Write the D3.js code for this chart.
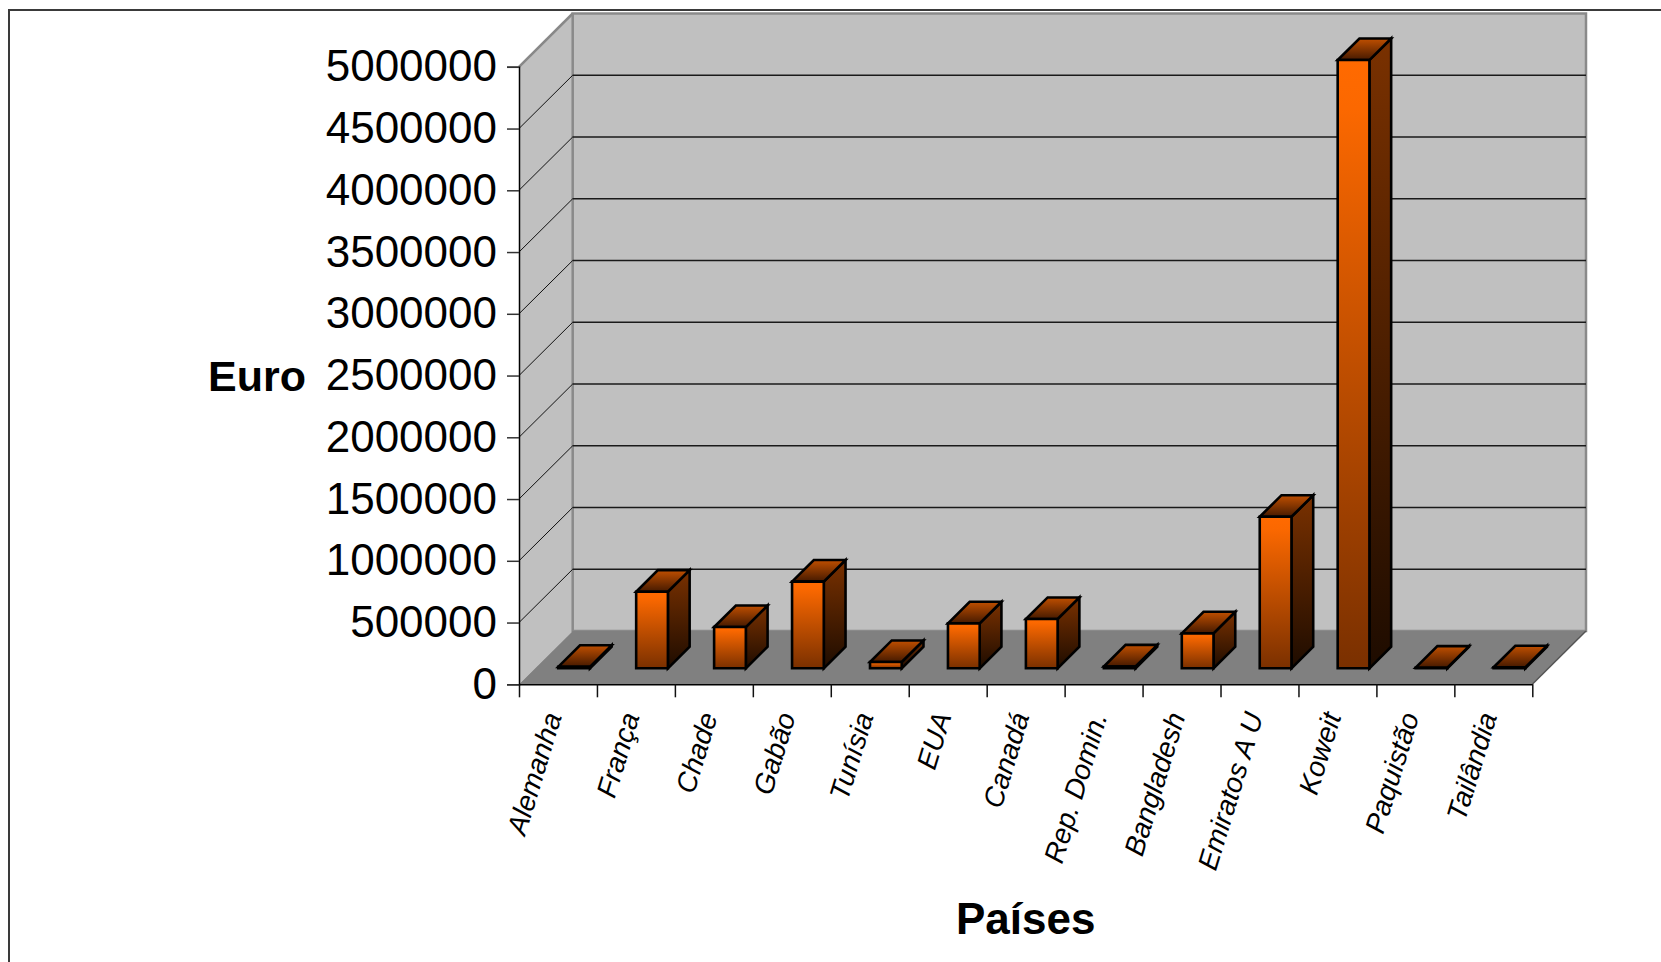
<!DOCTYPE html>
<html>
<head>
<meta charset="utf-8">
<title>Euro por país</title>
<script src="https://cdn.jsdelivr.net/npm/d3@7/dist/d3.min.js"></script>
<style>
  html, body { margin: 0; padding: 0; background: #ffffff; }
  svg { display: block; }
  text { font-family: "Liberation Sans", Arial, Helvetica, sans-serif; }
</style>
</head>
<body>
<svg id="chart" width="1661" height="962"></svg>
<script>
// Countries and their amounts (Euro)
const categories = ["Alemanha", "França", "Chade", "Gabão", "Tunísia", "EUA", "Canadá",
                    "Rep. Domin.", "Bangladesh", "Emiratos A U", "Koweit", "Paquistão", "Tailândia"];
const values = [12000, 620000, 334000, 702000, 51000, 364000, 399000,
                15000, 283000, 1227000, 4925000, 5000, 8000];
const yTicks = [0, 500000, 1000000, 1500000, 2000000, 2500000, 3000000,
                3500000, 4000000, 4500000, 5000000];
const yTitle = "Euro";
const xTitle = "Países";

const svg = d3.select("#chart");

// Front plane of the 3D box
const plotL = 519, plotR = 1532.3, plotB = 684.3, plotT = 66.8;
// Depth offset of the back wall
const DX = 53.7, DY = -53.3;
// Bars occupy this slice of the depth
const Z0 = 0.3, Z1 = 0.705;

const x = d3.scaleBand().domain(categories).range([plotL, plotR]).paddingInner(0).paddingOuter(0);
const y = d3.scaleLinear().domain([0, 5000000]).range([plotB, plotT]);
const xIdx = d3.scaleLinear().domain([0, categories.length]).range([plotL, plotR]);

const proj = (px, py, z) => [px + z * DX, py + z * DY];
const pts = arr => arr.map(p => p.join(",")).join(" ");

// Gradients
const defs = svg.append("defs");
function vGrad(id, stops) {
  const g = defs.append("linearGradient").attr("id", id)
    .attr("x1", 0).attr("y1", 0).attr("x2", 0).attr("y2", 1);
  stops.forEach(([o, c]) => g.append("stop").attr("offset", o).attr("stop-color", c));
}
vGrad("gFront", [[0, "#ff6a00"], [0.08, "#fb6800"], [1, "#7a3000"]]);
vGrad("gSide", [[0, "#7a3100"], [1, "#1e0c00"]]);
vGrad("gTop", [[0, "#c04f00"], [1, "#461a00"]]);

// Outer frame
svg.append("path")
  .attr("d", "M9,962 V10 H1661")
  .attr("fill", "none").attr("stroke", "#3a3a3a").attr("stroke-width", 2);

// Walls and floor
const y0 = y(0), y5 = y(5000000);
svg.append("polygon") // left side wall
  .attr("points", pts([[plotL, y5], proj(plotL, y5, 1), proj(plotL, y0, 1), [plotL, y0]]))
  .attr("fill", "#c0c0c0");
svg.append("line")
  .attr("x1", plotL).attr("y1", y5)
  .attr("x2", proj(plotL, y5, 1)[0]).attr("y2", proj(plotL, y5, 1)[1])
  .attr("stroke", "#888").attr("stroke-width", 2.5);

const bw0 = proj(plotL, y5, 1), bw1 = proj(plotR, y0, 1);
svg.append("rect") // back wall
  .attr("x", bw0[0]).attr("y", bw0[1])
  .attr("width", bw1[0] - bw0[0]).attr("height", bw1[1] - bw0[1])
  .attr("fill", "#c0c0c0").attr("stroke", "#8a8a8a").attr("stroke-width", 2.5);

svg.append("polygon") // floor
  .attr("points", pts([[plotL, y0], [plotR, y0], proj(plotR, y0, 1), proj(plotL, y0, 1)]))
  .attr("fill", "#808080");
svg.append("line")
  .attr("x1", plotR).attr("y1", y0)
  .attr("x2", proj(plotR, y0, 1)[0]).attr("y2", proj(plotR, y0, 1)[1])
  .attr("stroke", "#555").attr("stroke-width", 1.5);

// Grid lines: back wall and left wall diagonals
const gridVals = yTicks.filter(v => v > 0 && v < 5000000);
svg.append("g").selectAll("line").data(gridVals).join("line")
  .attr("x1", proj(plotL, 0, 1)[0]).attr("x2", proj(plotR, 0, 1)[0])
  .attr("y1", d => proj(0, y(d), 1)[1]).attr("y2", d => proj(0, y(d), 1)[1])
  .attr("stroke", "#1a1a1a").attr("stroke-width", 1.5);
svg.append("g").selectAll("line").data(gridVals).join("line")
  .attr("x1", plotL).attr("y1", d => y(d))
  .attr("x2", proj(plotL, 0, 1)[0]).attr("y2", d => proj(0, y(d), 1)[1])
  .attr("stroke", "#111").attr("stroke-width", 1);

// Bars
const barW = x.bandwidth() * 0.407;
const bars = svg.append("g").selectAll("g").data(categories.map((c, i) => ({ c, v: values[i] }))).join("g");
bars.each(function (d) {
  const g = d3.select(this);
  const x0 = x(d.c) + (x.bandwidth() - barW) / 2, x1 = x0 + barW;
  const yt = y(d.v), yb = y(0);
  const style = s => s.attr("stroke", "#000").attr("stroke-width", 2.6).attr("stroke-linejoin", "miter");
  style(g.append("polygon")
    .attr("points", pts([proj(x1, yt, Z0), proj(x1, yt, Z1), proj(x1, yb, Z1), proj(x1, yb, Z0)]))
    .attr("fill", "url(#gSide)"));
  style(g.append("polygon")
    .attr("points", pts([proj(x0, yt, Z0), proj(x1, yt, Z0), proj(x1, yt, Z1), proj(x0, yt, Z1)]))
    .attr("fill", "url(#gTop)"));
  style(g.append("polygon")
    .attr("points", pts([proj(x0, yt, Z0), proj(x1, yt, Z0), proj(x1, yb, Z0), proj(x0, yb, Z0)]))
    .attr("fill", "url(#gFront)"));
});

// Y axis
const yAxis = svg.append("g")
  .attr("transform", `translate(${plotL},0)`)
  .call(d3.axisLeft(y).tickValues(yTicks).tickFormat(d3.format("d")).tickSize(12).tickPadding(10));
yAxis.select(".domain").attr("stroke", "#000").attr("stroke-width", 1.5);
yAxis.selectAll(".tick line").attr("stroke", "#333").attr("stroke-width", 1.5);
yAxis.selectAll(".tick text")
  .attr("font-size", 44).attr("fill", "#000")
  .attr("font-family", "'Liberation Sans', Arial, sans-serif");

// X axis: boundary ticks
const xAxis = svg.append("g")
  .attr("transform", `translate(0,${plotB})`)
  .call(d3.axisBottom(xIdx).tickValues(d3.range(categories.length + 1)).tickFormat("").tickSize(13).tickSizeOuter(0));
xAxis.select(".domain").attr("stroke", "#000").attr("stroke-width", 1.5);
xAxis.selectAll(".tick line").attr("stroke", "#111").attr("stroke-width", 1.5);

// Category labels, rotated
svg.append("g").selectAll("text").data(categories).join("text")
  .attr("transform", d => `translate(${x(d) + x.bandwidth() / 2 + 4},716) rotate(-73)`)
  .attr("text-anchor", "end")
  .attr("font-size", 28).attr("font-style", "italic").attr("fill", "#000")
  .text(d => d);

// Axis titles
svg.append("text")
  .attr("x", 306).attr("y", y(2500000)).attr("dy", "0.35em")
  .attr("text-anchor", "end")
  .attr("font-size", 43).attr("font-weight", "bold")
  .text(yTitle);
svg.append("text")
  .attr("x", (plotL + plotR) / 2).attr("y", 934)
  .attr("text-anchor", "middle")
  .attr("font-size", 44).attr("font-weight", "bold")
  .text(xTitle);
</script>
</body>
</html>
